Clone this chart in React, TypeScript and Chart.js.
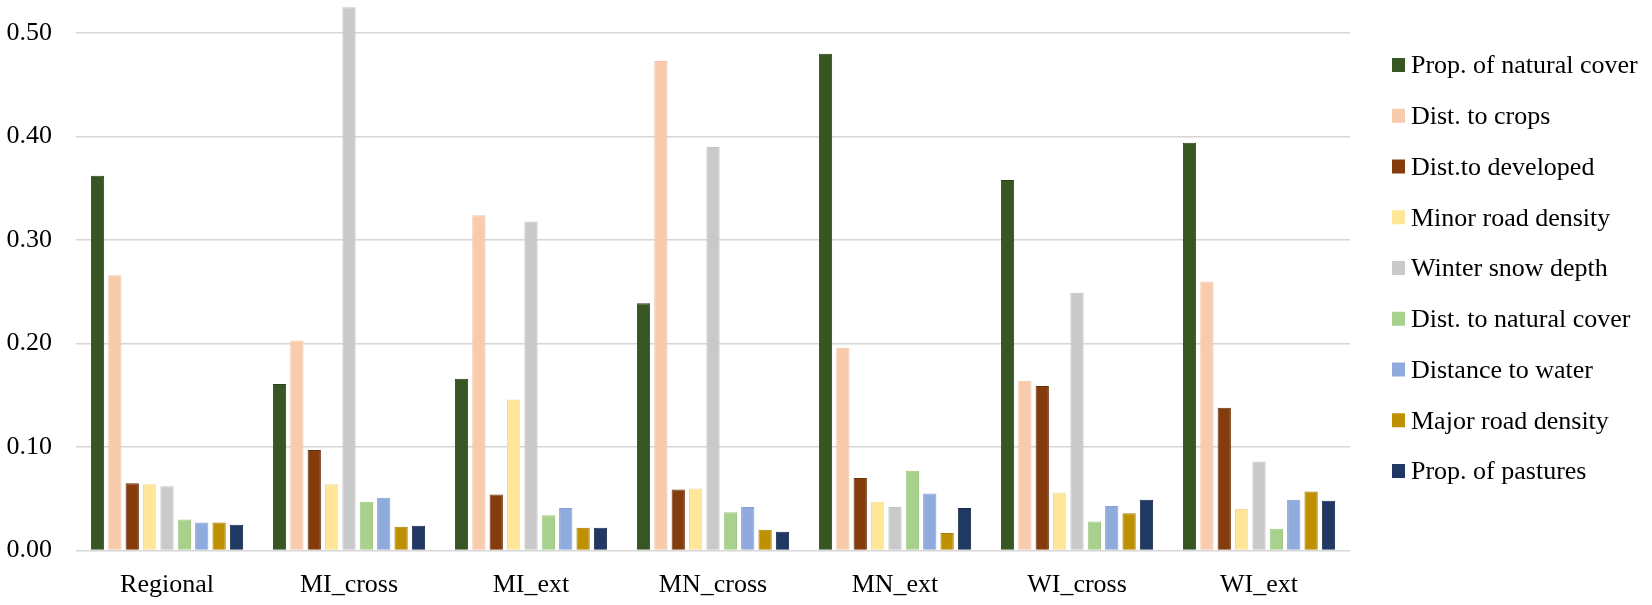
import { useEffect, useRef } from "react";
import { Chart, registerables } from "chart.js";

Chart.register(...registerables);

const categories = ["Regional", "MI_cross", "MI_ext", "MN_cross", "MN_ext", "WI_cross", "WI_ext"];

const seriesNames = [
  "Prop. of natural cover",
  "Dist. to crops",
  "Dist.to developed",
  "Minor road density",
  "Winter snow depth",
  "Dist. to natural cover",
  "Distance to water",
  "Major road density",
  "Prop. of pastures",
];

const propNaturalCover = [0.362, 0.161, 0.166, 0.239, 0.48, 0.358, 0.394];
const distCrops = [0.266, 0.203, 0.324, 0.473, 0.196, 0.164, 0.26];
const distDeveloped = [0.065, 0.097, 0.054, 0.059, 0.07, 0.159, 0.138];
const minorRoadDensity = [0.064, 0.064, 0.146, 0.06, 0.047, 0.056, 0.04];
const winterSnowDepth = [0.062, 0.525, 0.318, 0.39, 0.042, 0.249, 0.086];
const distNaturalCover = [0.03, 0.047, 0.034, 0.037, 0.077, 0.028, 0.021];
const distanceToWater = [0.027, 0.051, 0.041, 0.042, 0.055, 0.043, 0.049];
const majorRoadDensity = [0.027, 0.023, 0.022, 0.02, 0.017, 0.036, 0.057];
const propPastures = [0.025, 0.024, 0.022, 0.018, 0.041, 0.049, 0.048];

const yTickValues = [0, 0.1, 0.2, 0.3, 0.4, 0.5];

const seriesValues = [
  propNaturalCover,
  distCrops,
  distDeveloped,
  minorRoadDensity,
  winterSnowDepth,
  distNaturalCover,
  distanceToWater,
  majorRoadDensity,
  propPastures,
];

const fillColors = ["#375623", "#F8CBAD", "#843C0C", "#FFE699", "#C9C9C9", "#A9D18E", "#8FAADC", "#BF9000", "#203864"];
const edgeColors = ["#2a4219", "#f2c2a2", "#6a300a", "#f7dc8e", "#c2c2c2", "#9fc884", "#86a1d3", "#a67d00", "#18294a"];

const FONT_FAMILY = '"Liberation Serif", "Times New Roman", serif';

const rightLegend = {
  id: "rightLegend",
  afterDraw(chart: any) {
    const ctx = chart.ctx;
    const x0 = chart.chartArea.right + 42;
    ctx.save();
    ctx.font = `26px ${FONT_FAMILY}`;
    ctx.textAlign = "left";
    ctx.textBaseline = "alphabetic";
    chart.data.datasets.forEach((ds: any, i: number) => {
      const cy = 65 + i * 50.75;
      ctx.fillStyle = ds.backgroundColor;
      ctx.fillRect(x0, cy - 7, 13, 14);
      ctx.fillStyle = "#000";
      ctx.fillText(ds.label, x0 + 19, cy + 8.3);
    });
    ctx.restore();
  },
};

export default function App() {
  const ref = useRef<HTMLCanvasElement>(null);

  useEffect(() => {
    document.body.style.margin = "0";
    const canvas = ref.current;
    if (!canvas) return;
    const chart = new Chart(canvas, {
      type: "bar",
      data: {
        labels: categories,
        datasets: seriesNames.map((name, i) => ({
          label: name,
          data: seriesValues[i],
          backgroundColor: fillColors[i],
          borderColor: edgeColors[i],
          borderWidth: 1,
          categoryPercentage: 0.859,
          barPercentage: 0.765,
        })),
      },
      options: {
        responsive: false,
        animation: false,
        devicePixelRatio: 1,
        layout: { padding: { top: 2, right: 302, left: 0, bottom: 0 } },
        plugins: {
          legend: { display: false },
          tooltip: { enabled: false },
        },
        scales: {
          x: {
            grid: { display: false, drawTicks: false },
            border: { display: false },
            ticks: {
              padding: 19,
              color: "#000",
              font: { family: FONT_FAMILY, size: 26 },
            },
            afterFit: (s: any) => {
              s.height = 54.5;
            },
          },
          y: {
            min: 0,
            max: 0.53,
            afterBuildTicks: (s: any) => {
              s.ticks = yTickValues.map((v) => ({ value: v }));
            },
            afterFit: (s: any) => {
              s.width = 76;
              s.paddingTop = 0;
              s.paddingBottom = 0;
            },
            grid: {
              color: "#d6d6d6",
              lineWidth: 1.5,
              drawTicks: true,
              tickLength: 24,
              tickColor: "rgba(0,0,0,0)",
            },
            border: { display: false },
            ticks: {
              padding: 0,
              color: "#000",
              font: { family: FONT_FAMILY, size: 26 },
              callback: (v: any) => Number(v).toFixed(2),
            },
          },
        },
      },
      plugins: [rightLegend],
    });
    return () => chart.destroy();
  }, []);

  return (
    <div style={{ width: 1652, height: 605 }}>
      <canvas ref={ref} width={1652} height={605} style={{ display: "block", width: 1652, height: 605 }} />
    </div>
  );
}
